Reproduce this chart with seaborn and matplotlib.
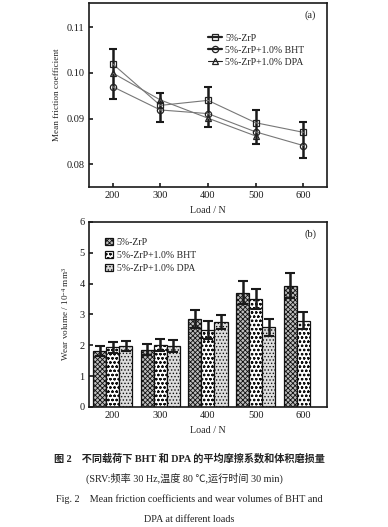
import numpy as np
import pandas as pd
import matplotlib
matplotlib.use('Agg')
import matplotlib.pyplot as plt
import seaborn as sns

sns.set_theme(style='ticks')
plt.rcParams['font.family'] = ['Liberation Serif', 'Noto Sans CJK SC', 'DejaVu Sans']
plt.rcParams['mathtext.fontset'] = 'custom'
plt.rcParams['mathtext.rm'] = 'Liberation Serif'
plt.rcParams['mathtext.it'] = 'Liberation Serif:italic'
plt.rcParams['hatch.linewidth'] = 0.6
plt.rcParams['hatch.color'] = '#222222'

# Data
loads = [200, 300, 400, 500, 600]
series = ['5%-ZrP', '5%-ZrP+1.0% BHT', '5%-ZrP+1.0% DPA']

# (a) mean friction coefficient
fric_zrp = [0.1020, 0.0929, 0.0940, 0.0891, 0.0870]
fric_bht = [0.0970, 0.0919, 0.0911, 0.0871, 0.0841]
fric_dpa = [0.1000, 0.0941, 0.0901, 0.0862, np.nan]
fric_err_center = [0.0997, 0.0925, 0.0925, 0.0881, 0.0853]
fric_err_half = [0.0055, 0.0032, 0.0044, 0.0037, 0.0040]

# (b) wear volume, 10^-4 mm^3
wear_zrp = [1.81, 1.86, 2.85, 3.70, 3.93]
wear_bht = [1.93, 2.00, 2.49, 3.49, 2.80]
wear_dpa = [1.97, 1.97, 2.74, 2.58, np.nan]
wear_zrp_err = [0.16, 0.19, 0.28, 0.37, 0.40]
wear_bht_err = [0.17, 0.19, 0.28, 0.33, 0.27]
wear_dpa_err = [0.16, 0.19, 0.23, 0.27, np.nan]

fig = plt.figure(figsize=(3.88, 5.27), dpi=100)
ax1 = fig.add_axes([0.229, 0.645, 0.614, 0.349])
ax2 = fig.add_axes([0.229, 0.228, 0.614, 0.351])

# ---- (a) ----
markers = ['s', 'o', '^']
fric = [fric_zrp, fric_bht, fric_dpa]
for name, vals, m in zip(series, fric, markers):
    sns.lineplot(x=loads, y=vals, ax=ax1, color='#777777', linewidth=0.8,
                 marker=m, markersize=5 if m == 's' else 4.5,
                 markerfacecolor='none', markeredgecolor='#222222',
                 markeredgewidth=0.9, label=name)
ax1.errorbar(loads, fric_err_center, yerr=fric_err_half, fmt='none',
             ecolor='#1a1a1a', elinewidth=1.8, capsize=3, capthick=1.5, zorder=1)

ax1.set_xlim(150, 650)
ax1.set_ylim(0.075, 0.1153)
ax1.set_xticks(loads)
ax1.set_yticks([0.08, 0.09, 0.10, 0.11])
ax1.set_yticklabels(['0.08', '0.09', '0.10', '0.11'])
ax1.set_xlabel('Load / N', fontsize=7.2, labelpad=4)
ax1.set_ylabel('Mean friction coefficient', fontsize=6.6, labelpad=4)
ax1.text(0.93, 0.935, '(a)', transform=ax1.transAxes, fontsize=7.5,
         ha='center', va='center')
leg = ax1.legend(loc='upper left', bbox_to_anchor=(0.47, 0.87), frameon=False,
                 fontsize=7, handlelength=1.5, handletextpad=0.3,
                 labelspacing=0.3, borderpad=0.2)
for ln, lw in zip(leg.get_lines(), [1.6, 1.6, 0.8]):
    ln.set_linewidth(lw)
    ln.set_color('#222222')

# ---- (b) ----
wear_df = pd.DataFrame({
    'load': [str(l) for l in loads] * 3,
    'series': np.repeat(series, len(loads)),
    'wear': wear_zrp + wear_bht + wear_dpa,
})
sns.barplot(data=wear_df, x='load', y='wear', hue='series', ax=ax2,
            order=[str(l) for l in loads], hue_order=series,
            width=0.82, errorbar=None, edgecolor='#111111', linewidth=0.9)

faces = ['#bdbdbd', '#ffffff', '#dcdcdc']
hatches = ['xxxxxxx', 'oooo', '.....']
errs = [wear_zrp_err, wear_bht_err, wear_dpa_err]
for cont, fc, h, err in zip(ax2.containers, faces, hatches, errs):
    xs, ys = [], []
    for bar in cont:
        bar.set_facecolor(fc)
        bar.set_hatch(h)
        if np.isfinite(bar.get_height()) and bar.get_height() > 0:
            xs.append(bar.get_x() + bar.get_width() / 2)
            ys.append(bar.get_height())
    es = [e for e in err if np.isfinite(e)][:len(xs)]
    ax2.errorbar(xs, ys, yerr=es, fmt='none', ecolor='#1a1a1a',
                 elinewidth=1.8, capsize=3.5, capthick=1.5, zorder=5)

ax2.set_xlim(-0.5, 4.5)
ax2.set_ylim(0, 6)
ax2.set_yticks([0, 1, 2, 3, 4, 5, 6])
ax2.set_xlabel('Load / N', fontsize=7.2, labelpad=4)
ax2.set_ylabel('Wear volume / 10$^{-4}$ mm$^3$', fontsize=6.6, labelpad=6)
ax2.text(0.93, 0.935, '(b)', transform=ax2.transAxes, fontsize=7.5,
         ha='center', va='center')
handles, labels = ax2.get_legend_handles_labels()
for hd, fc, h in zip(handles, faces, hatches):
    hd.set_facecolor(fc)
    hd.set_hatch(h)
ax2.legend(handles, labels, loc='upper left', bbox_to_anchor=(0.04, 0.95),
           frameon=False, fontsize=7, handlelength=0.8, handleheight=0.8,
           handletextpad=0.4, labelspacing=0.4, borderpad=0.2)

for ax in (ax1, ax2):
    for sp in ax.spines.values():
        sp.set_visible(True)
        sp.set_linewidth(1.2)
        sp.set_color('#1a1a1a')
    ax.tick_params(direction='in', length=3, width=1.2, labelsize=7.5,
                   colors='#1a1a1a', pad=3)
    ax.grid(False)

# caption
fig.text(0.488, 0.131, '图 2　不同载荷下 BHT 和 DPA 的平均摩擦系数和体积磨损量',
         ha='center', va='center', fontsize=7.3, fontweight='bold',
         color='#222222')
fig.text(0.475, 0.093, '(SRV:频率 30 Hz,温度 80 ℃,运行时间 30 min)',
         ha='center', va='center', fontsize=7.3, color='#222222')
fig.text(0.488, 0.053, 'Fig. 2　Mean friction coefficients and wear volumes of BHT and',
         ha='center', va='center', fontsize=7.3, color='#222222')
fig.text(0.488, 0.015, 'DPA at different loads',
         ha='center', va='center', fontsize=7.3, color='#222222')

fig.savefig('out.png', dpi=100)
